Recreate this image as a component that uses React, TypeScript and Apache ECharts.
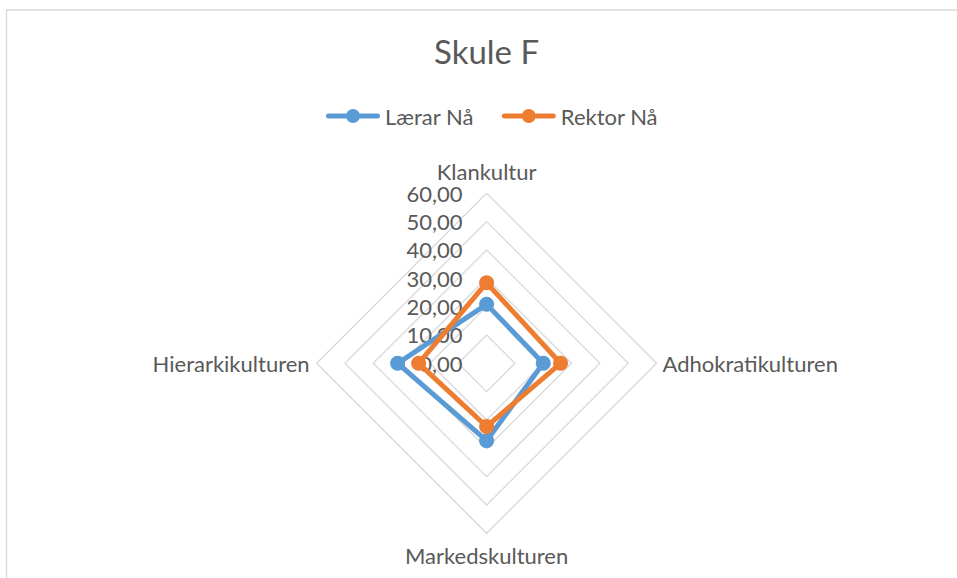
import React, { useEffect, useRef } from "react";
import * as echarts from "echarts";

const titleText = "Skule F";
const categories = ["Klankultur", "Adhokratikulturen", "Markedskulturen", "Hierarkikulturen"];
const seriesNames = ["Lærar Nå", "Rektor Nå"];
const laerarNaa = [20.8, 20.0, 27.3, 31.4];
const rektorNaa = [28.4, 26.1, 22.3, 24.0];
const axisMax = 60;
const axisSplits = 6;
const colors = ["#5B9BD5", "#ED7D31"];

// ECharts lays radar indicators out counter-clockwise; the reference runs clockwise.
const displayOrder = [0, 3, 2, 1];
// name gaps for indicators in display order (top, left, bottom, right)
const nameGaps = [8, 7, 11, 6];

const FONT = "Lato";
const TEXT_COLOR = "#595959";

const legendIcon =
  "path://M2.5,4.5 L51.5,4.5 A2.5,2.5 0 0 1 51.5,9.5 L2.5,9.5 A2.5,2.5 0 0 1 2.5,4.5 Z M27,0 A7,7 0 1 1 26.99,0 Z";

export default function App() {
  const ref = useRef<HTMLDivElement>(null);
  useEffect(() => {
    if (!ref.current) return;
    const chart = echarts.init(ref.current, undefined, { renderer: "svg" });
    const values = [laerarNaa, rektorNaa];
    chart.setOption({
      animation: false,
      backgroundColor: "#ffffff",
      textStyle: { fontFamily: FONT, color: TEXT_COLOR },
      title: {
        text: titleText,
        left: 486.6,
        textAlign: "center",
        top: 34,
        padding: 0,
        textStyle: { fontFamily: FONT, fontSize: 33, fontWeight: "normal", color: TEXT_COLOR },
      },
      legend: {
        data: seriesNames,
        left: 326,
        top: 105,
        padding: 0,
        itemWidth: 54,
        itemHeight: 14,
        itemGap: 28,
        icon: legendIcon,
        textStyle: { fontFamily: FONT, fontSize: 22, color: TEXT_COLOR },
      },
      graphic: [
        {
          type: "rect",
          silent: true,
          shape: { x: 6.5, y: 10, width: 1200, height: 1200 },
          style: { fill: "none", stroke: "#D9D9D9", lineWidth: 1.3 },
        },
      ],
      radar: {
        center: [486.6, 363.3],
        radius: 170,
        startAngle: 90,
        splitNumber: axisSplits,
        shape: "polygon",
        nameGap: 8,
        axisName: { fontFamily: FONT, fontSize: 22, color: TEXT_COLOR },
        axisLine: { show: false },
        axisTick: { show: false },
        splitArea: { show: false },
        splitLine: { lineStyle: { color: "#D9D9D9", width: 1.3 } },
        axisLabel: {
          show: false,
          fontFamily: FONT,
          fontSize: 22,
          color: TEXT_COLOR,
          margin: 24,
          formatter: (v: number) => v.toFixed(2).replace(".", ","),
        },
        indicator: displayOrder.map((ci, i) => ({
          name: categories[ci],
          min: 0,
          max: axisMax,
          nameGap: nameGaps[i],
          axisLabel: i === 0 ? { show: true } : { show: false },
        })),
      },
      series: [
        {
          type: "radar",
          symbol: "circle",
          symbolSize: 15,
          data: seriesNames.map((name, i) => ({
            name,
            value: displayOrder.map((ci) => values[i][ci]),
            lineStyle: { color: colors[i], width: 5 },
            itemStyle: { color: colors[i] },
          })),
        },
      ],
    });
    return () => chart.dispose();
  }, []);
  return (
    <div
      ref={ref}
      style={{ position: "fixed", left: 0, top: 0, width: 957, height: 578 }}
    />
  );
}
